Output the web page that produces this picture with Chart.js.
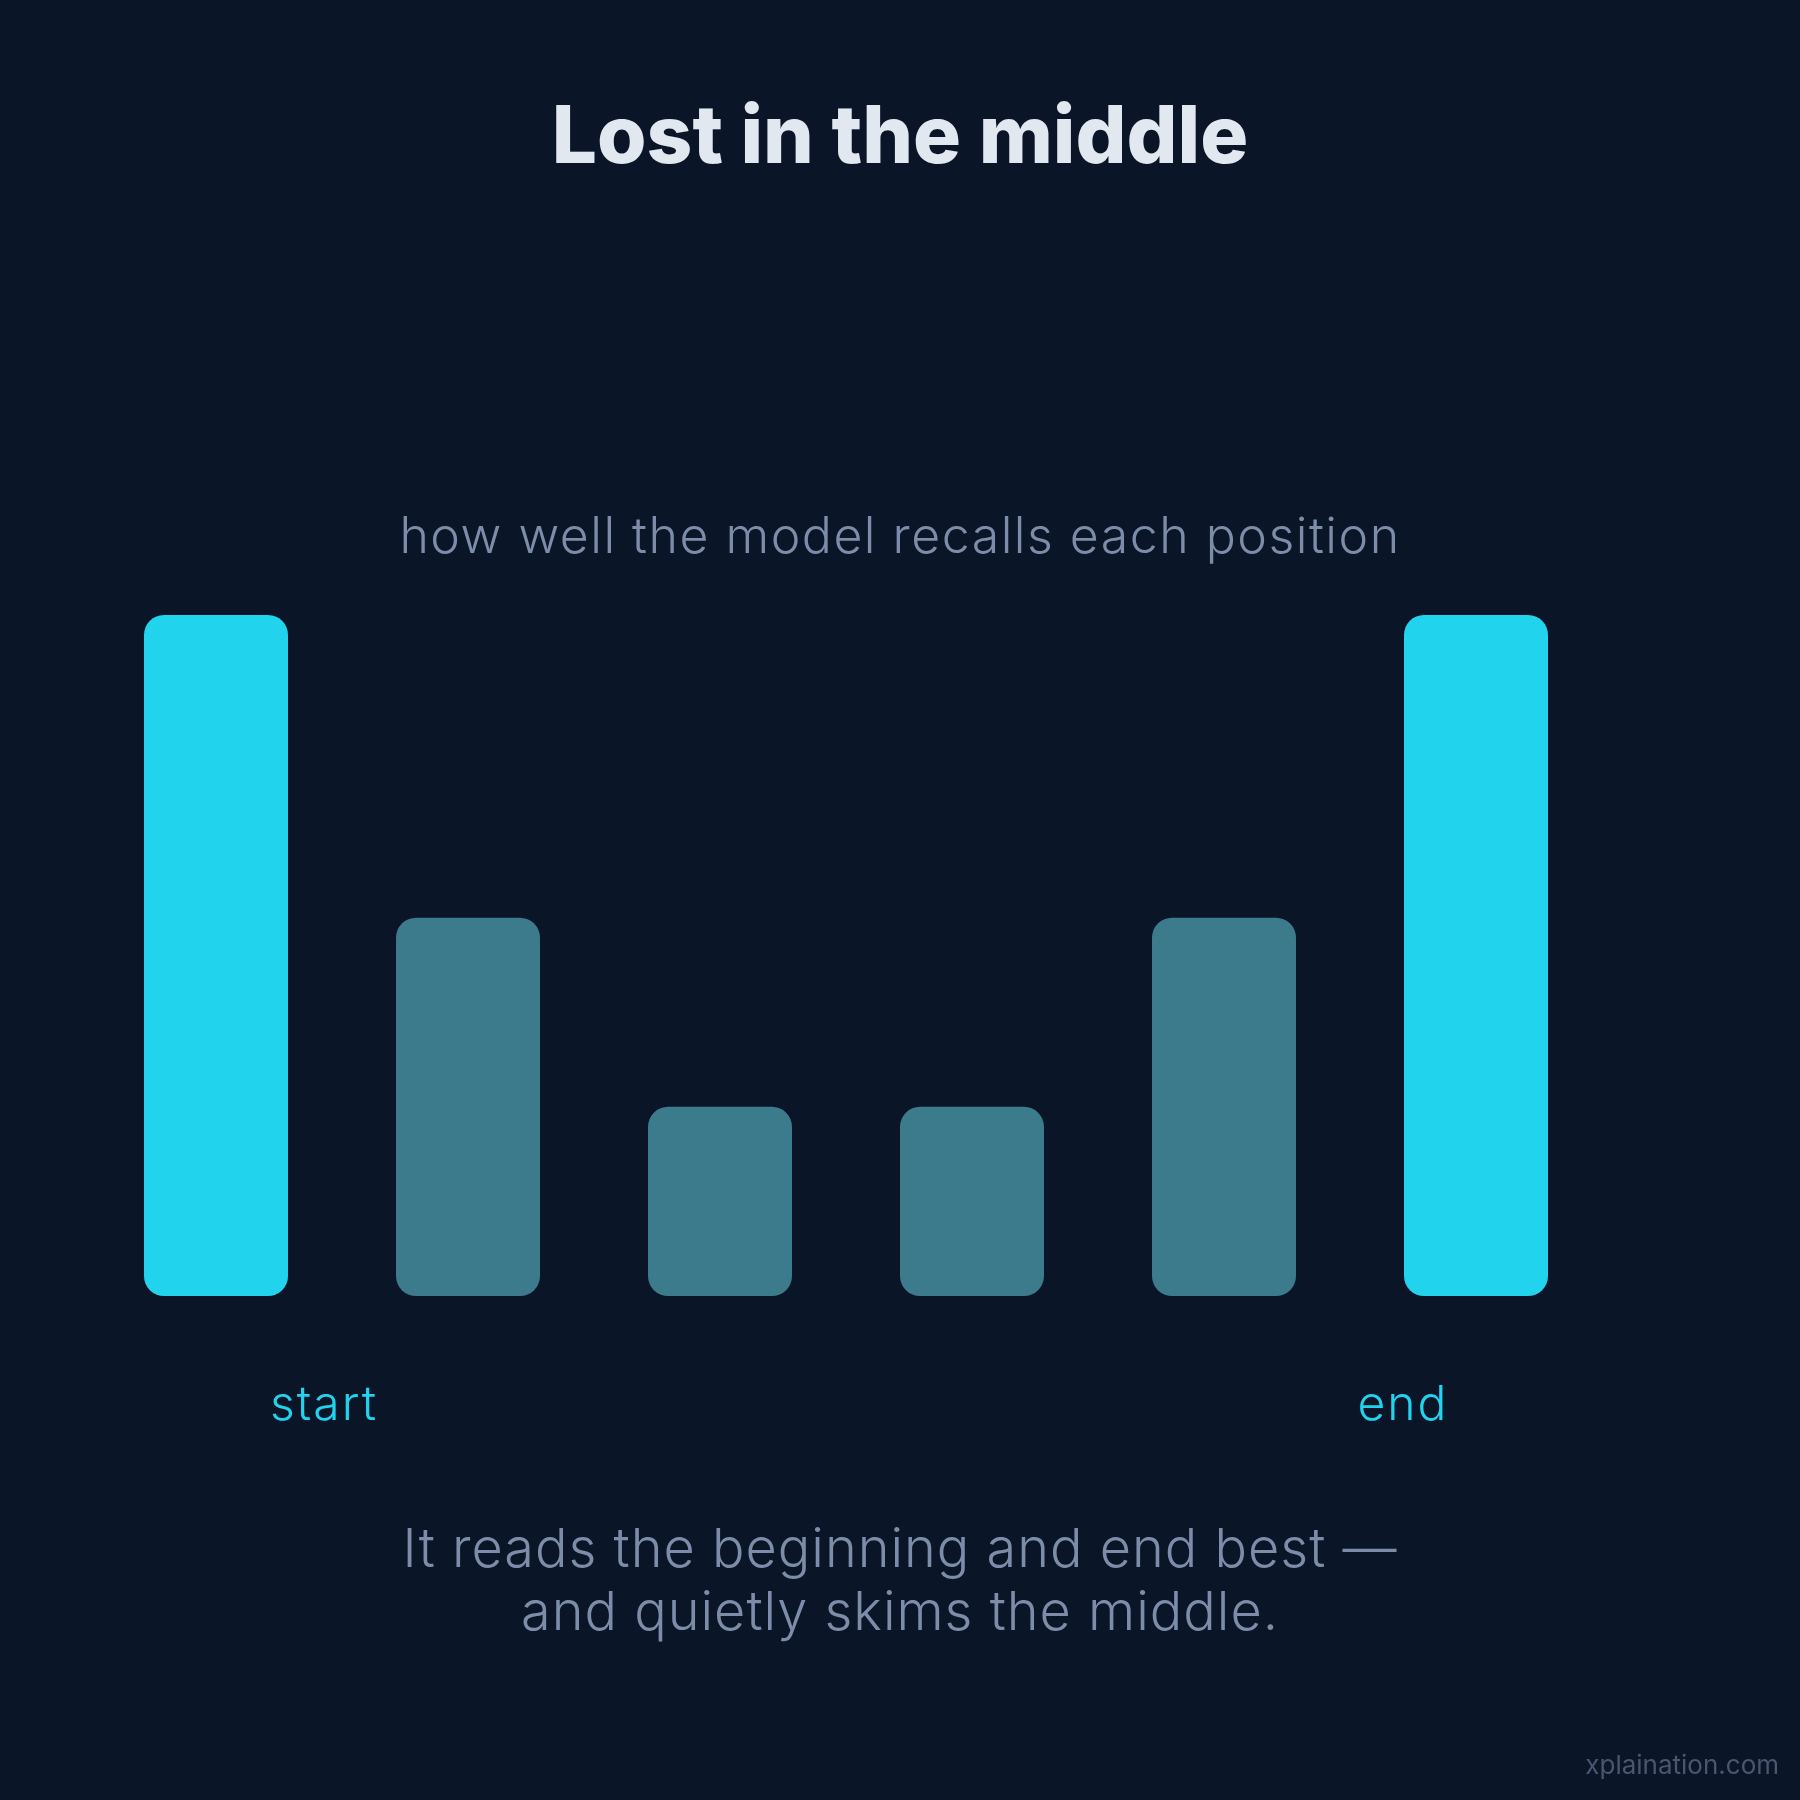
<!DOCTYPE html>
<html>
<head>
<meta charset="utf-8">
<script src="https://cdn.jsdelivr.net/npm/chart.js@4"></script>
<style>
    html, body { margin: 0; padding: 0; background: #0b1528; }
    #wrap { width: 1800px; height: 1800px; position: relative; }
</style>
</head>
<body>
<div id="wrap"><canvas id="recallChart" width="1800" height="1800"></canvas></div>
<script>
const positions = ['1', '2', '3', '4', '5', '6'];
const recall = [90, 50, 25, 25, 50, 90];
const barColors = ['#22d3ee', '#3b7b8b', '#3b7b8b', '#3b7b8b', '#3b7b8b', '#22d3ee'];

const bg = '#0b1528';
const muted = '#7d8ca8';

// titles and labels drawn on top of the chart
const textPlugin = {
    id: 'texts',
    beforeDraw(chart) {
        const ctx = chart.ctx;
        ctx.save();
        ctx.fillStyle = bg;
        ctx.fillRect(0, 0, chart.width, chart.height);
        ctx.restore();
    },
    afterDraw(chart) {
        const ctx = chart.ctx;
        ctx.save();
        ctx.textBaseline = 'alphabetic';
        ctx.textAlign = 'center';

        ctx.fillStyle = '#e2e8f0';
        ctx.font = '800 80px Inter';
        ctx.letterSpacing = '0px';
        ctx.fillText('Lost in the middle', 900, 163);

        ctx.fillStyle = muted;
        ctx.font = '300 50px Inter';
        ctx.letterSpacing = '1.5px';
        ctx.fillText('how well the model recalls each position', 900, 553);

        ctx.fillStyle = '#22d3ee';
        ctx.font = '300 48px Inter';
        ctx.letterSpacing = '2px';
        ctx.fillText('start', 324, 1420);
        ctx.fillText('end', 1403, 1420);

        ctx.fillStyle = muted;
        ctx.font = '300 54px Inter';
        ctx.letterSpacing = '1px';
        ctx.fillText('It reads the beginning and end best \u2014', 900, 1567);
        ctx.fillText('and quietly skims the middle.', 900, 1630);

        ctx.fillStyle = '#4a5670';
        ctx.font = '400 26px Inter';
        ctx.letterSpacing = '0px';
        ctx.textAlign = 'right';
        ctx.fillText('xplaination.com', 1779, 1774);
        ctx.restore();
    }
};

new Chart(document.getElementById('recallChart'), {
    type: 'bar',
    data: {
        labels: positions,
        datasets: [{
            data: recall,
            backgroundColor: barColors,
            borderRadius: 20,
            borderSkipped: false,
            categoryPercentage: 1,
            barPercentage: 0.5714
        }]
    },
    options: {
        responsive: false,
        animation: false,
        layout: { padding: { left: 90, right: 198, top: 615, bottom: 504 } },
        scales: {
            x: { display: false },
            y: { display: false, min: 0, max: 90 }
        },
        plugins: {
            legend: { display: false },
            tooltip: { enabled: false }
        }
    },
    plugins: [textPlugin]
});
</script>
</body>
</html>
